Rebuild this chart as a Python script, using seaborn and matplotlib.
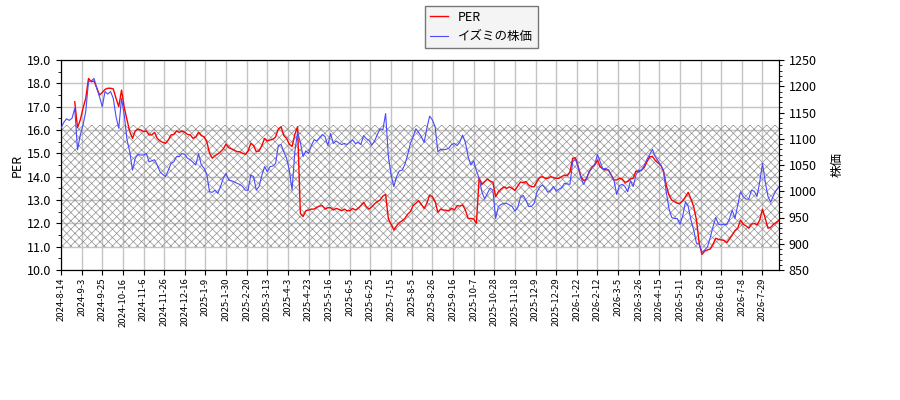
import numpy as np
import pandas as pd
import matplotlib
matplotlib.use("Agg")
import matplotlib.pyplot as plt
import seaborn as sns
from matplotlib.ticker import MultipleLocator, FormatStrFormatter

plt.rcParams['font.family'] = ['Noto Sans CJK JP', 'DejaVu Sans']
plt.rcParams['hatch.color'] = '#909090'
plt.rcParams['hatch.linewidth'] = 0.5

# x tick labels (every 15 trading days)
tick_labels = [
    "2024-8-14", "2024-9-3", "2024-9-25", "2024-10-16", "2024-11-6", "2024-11-26",
    "2024-12-16", "2025-1-9", "2025-1-30", "2025-2-20", "2025-3-13", "2025-4-3",
    "2025-4-23", "2025-5-16", "2025-6-5", "2025-6-25", "2025-7-15", "2025-8-5",
    "2025-8-26", "2025-9-16", "2025-10-7", "2025-10-28", "2025-11-18", "2025-12-9",
    "2025-12-29", "2026-1-22", "2026-2-12", "2026-3-5", "2026-3-26", "2026-4-15",
    "2026-5-11", "2026-5-29", "2026-6-18", "2026-7-8", "2026-7-29",
]

# Stock price (every 2 trading days)
price = [
    1120, 1131, 1138, 1135, 1139, 1158, 1079, 1107, 1126, 1152, 1209, 1210, 1215, 1196, 1180, 1161,
    1190, 1185, 1190, 1177, 1142, 1120, 1177, 1145, 1098, 1075, 1040, 1063, 1070, 1069, 1069, 1072,
    1056, 1058, 1060, 1050, 1037, 1032, 1028, 1040, 1053, 1056, 1066, 1066, 1072, 1070, 1063, 1060,
    1055, 1050, 1072, 1050, 1044, 1032, 999, 998, 1002, 996, 1009, 1025, 1034, 1021, 1020, 1018,
    1015, 1013, 1009, 1002,
    1002, 1031, 1028, 1002, 1009, 1030, 1047, 1037, 1047, 1048, 1053, 1087, 1089, 1075, 1063, 1040,
    1002, 1075, 1113, 1093, 1066, 1077, 1072, 1087, 1098, 1096, 1102, 1108, 1104, 1087, 1110, 1091,
    1096, 1092, 1089, 1091, 1089, 1093, 1098, 1091, 1093, 1089, 1106, 1100, 1097, 1088, 1096, 1108,
    1119, 1117, 1148, 1066, 1031, 1009, 1028, 1039, 1040, 1051, 1069, 1091, 1104, 1119, 1112, 1104,
    1093, 1120, 1143,
    1136, 1123, 1075, 1080, 1079, 1080, 1082, 1089, 1091, 1087, 1094, 1107, 1093, 1066, 1050, 1058,
    1039, 1025, 999, 985, 996, 1006, 1002, 948, 971, 975, 977, 977, 974, 971, 962, 969,
    988, 992, 983, 971, 971, 977, 998, 1008, 1012, 1006, 998, 1002, 1009, 1000, 1004, 1007,
    1015, 1014, 1013, 1056, 1061, 1047, 1025, 1013, 1025, 1037, 1044, 1050, 1070, 1056, 1042, 1044,
    1040, 1031, 1021,
    994, 1011, 1013, 1009, 999, 1020, 1009, 1031, 1040, 1039, 1049, 1061, 1070, 1080, 1066, 1058,
    1050, 1040, 999, 967, 950, 948, 948, 937, 953, 980, 971, 945, 926, 901, 899, 884,
    888, 894, 912, 932, 950, 937, 936, 937, 936, 948, 964, 948, 974, 999, 990, 985,
    985, 1002, 1000, 990, 1018, 1053, 1018, 990, 979, 992, 1002, 1009,
]

# PER (every 2 trading days)
per = [
    np.nan, np.nan, np.nan, np.nan, np.nan, 17.21, 16.10, 16.43, 16.93, 17.36, 18.21, 18.07, 18.10,
    17.81, 17.50, 17.61, 17.74, 17.79, 17.79, 17.76, 17.36, 17.00, 17.71, 16.96, 16.43, 15.93,
    15.64, 15.96, 16.04, 16.00, 15.93, 15.96, 15.79, 15.79, 15.90, 15.64, 15.53, 15.47, 15.43,
    15.57, 15.79, 15.81, 15.96, 15.90, 15.96, 15.90, 15.81, 15.79, 15.64, 15.71, 15.90, 15.76,
    15.71, 15.50, 15.00, 14.79, 14.90, 14.97, 15.07, 15.19, 15.40, 15.24, 15.19, 15.14, 15.07,
    15.07, 15.00, 14.96,
    15.10, 15.43, 15.33, 15.07, 15.10, 15.33, 15.64, 15.53, 15.57, 15.60, 15.70, 16.04, 16.14,
    15.76, 15.64, 15.39, 15.29, 15.81, 16.14, 12.43, 12.29, 12.54, 12.57, 12.61, 12.61, 12.69,
    12.74, 12.76, 12.61, 12.67, 12.67, 12.57, 12.64, 12.60, 12.54, 12.61, 12.54, 12.54, 12.64,
    12.57, 12.64, 12.76, 12.90, 12.71, 12.61, 12.71, 12.84, 12.93, 13.00, 13.17, 13.24, 12.19,
    11.96, 11.71, 11.90, 12.03, 12.11, 12.21, 12.39, 12.50, 12.76, 12.86, 12.97, 12.81, 12.64,
    12.86, 13.21,
    13.14, 12.93, 12.47, 12.61, 12.57, 12.56, 12.53, 12.64, 12.57, 12.76, 12.74, 12.79, 12.57,
    12.21, 12.21, 12.19, 12.00, 13.93, 13.67, 13.79, 13.90, 13.81, 13.76, 13.14, 13.36, 13.47,
    13.56, 13.50, 13.56, 13.50, 13.41, 13.59, 13.77, 13.74, 13.79, 13.64, 13.57, 13.57, 13.79,
    13.96, 14.00, 13.93, 13.93, 14.00, 13.96, 13.93, 13.93, 14.00, 14.07, 14.04, 14.19, 14.79,
    14.81, 14.43, 14.00, 13.83, 13.90, 14.21, 14.39, 14.50, 14.71, 14.43, 14.33, 14.29, 14.29,
    14.07, 13.86,
    13.86, 13.93, 13.90, 13.76, 13.79, 13.90, 13.93, 14.24, 14.21, 14.29, 14.39, 14.64, 14.86,
    14.86, 14.70, 14.59, 14.50, 14.24, 13.64, 13.21, 13.00, 12.93, 12.86, 12.86, 12.96, 13.14,
    13.33, 13.04, 12.71, 12.14, 11.14, 10.67, 10.81, 10.86, 10.90, 11.10, 11.36, 11.31, 11.29,
    11.27, 11.17, 11.33, 11.50, 11.69, 11.79, 12.14, 11.96, 11.89, 11.79, 11.96, 12.00, 11.93,
    12.14, 12.61, 12.21, 11.79, 11.83, 11.96, 12.04, 12.14,
]

# hatched PER band
band_low = 11.0
band_high = 16.2

n = len(price)
days = np.arange(n) * 2
df = pd.DataFrame({"day": days, "per": per, "price": price})

fig = plt.figure(figsize=(9, 4), dpi=100)
ax = fig.add_axes([61 / 900, 130 / 400, 718 / 900, 210 / 400])
ax2 = ax.twinx()

ax.set_axisbelow(True)
ax.grid(True, color='#c4c4c4', linewidth=1.0)

ax.fill_between([days[0], days[-1]], band_low, band_high, hatch='xxxx',
                facecolor='none', edgecolor='#909090', linewidth=0, zorder=1)

sns.lineplot(data=df, x="day", y="per", ax=ax, color='#ff0000', linewidth=1.0,
             label='PER', legend=False, zorder=3)
sns.lineplot(data=df, x="day", y="price", ax=ax2, color='#4a4aff', linewidth=0.8,
             label='イズミの株価', legend=False, zorder=3)

ax.set_xlim(days[0], days[-1])
ax.set_ylim(10, 19)
ax2.set_ylim(850, 1250)

ax.set_xticks(np.arange(len(tick_labels)) * 15)
ax.set_xticklabels(tick_labels, rotation=90, fontsize=6.8)
ax.yaxis.set_major_locator(MultipleLocator(1))
ax.yaxis.set_minor_locator(MultipleLocator(0.5))
ax.yaxis.set_major_formatter(FormatStrFormatter('%.1f'))
ax2.yaxis.set_major_locator(MultipleLocator(50))
ax2.yaxis.set_minor_locator(MultipleLocator(10))

ax.tick_params(axis='y', labelsize=9)
ax2.tick_params(axis='y', labelsize=9)
ax.tick_params(axis='x', pad=2)

ax.set_xlabel('')
ax.set_ylabel('PER', fontsize=9, labelpad=2)
ax2.set_ylabel('株価', fontsize=9, labelpad=10)

for a in (ax, ax2):
    for s in a.spines.values():
        s.set_color('black')

h1, l1 = ax.get_legend_handles_labels()
h2, l2 = ax2.get_legend_handles_labels()
leg = fig.legend(h1 + h2, l1 + l2, loc='upper center', bbox_to_anchor=(0.535, 0.992),
                 fontsize=9, fancybox=False, edgecolor='#777777', facecolor='#f4f4f4',
                 framealpha=1.0, handlelength=1.4, borderaxespad=0.2)

fig.savefig('out.png', dpi=100)
